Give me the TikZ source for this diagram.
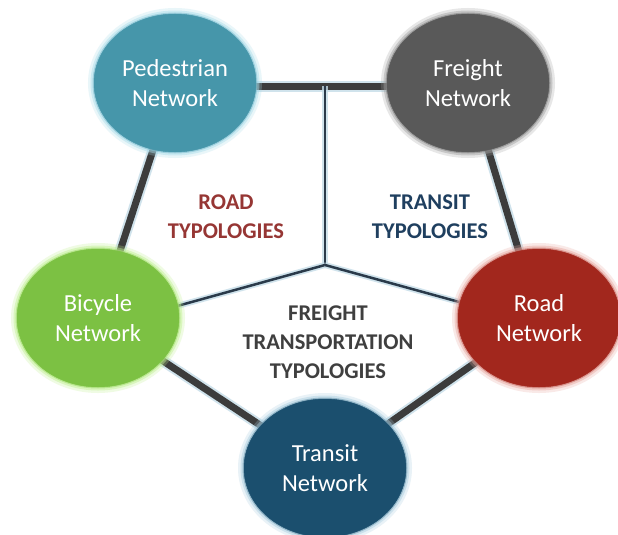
\documentclass[tikz,border=0pt]{standalone}
\usepackage{fontspec}
\setmainfont{Carlito}
\usetikzlibrary{shapes.geometric,backgrounds}
\definecolor{pedc}{HTML}{4696AA}
\definecolor{pedg}{HTML}{A8DCEB}
\definecolor{frc}{HTML}{595959}
\definecolor{frg}{HTML}{A0A0A0}
\definecolor{bicc}{HTML}{7CC143}
\definecolor{bicg}{HTML}{C0F090}
\definecolor{roadc}{HTML}{A2271D}
\definecolor{roadg}{HTML}{E8A8A0}
\definecolor{tranc}{HTML}{1B4F6E}
\definecolor{trang}{HTML}{A8CDE0}
\definecolor{linec}{HTML}{3C3C3C}
\definecolor{lineg}{HTML}{C5DCE8}
\definecolor{thinc}{HTML}{2A3A4A}
\definecolor{roadt}{HTML}{963634}
\definecolor{trant}{HTML}{1F3F5F}
\definecolor{freit}{HTML}{3F3F3F}
\tikzset{
  net/.style 2 args={ellipse, minimum width=162pt, minimum height=138pt, inner sep=0pt,
    fill=#1, draw=#1, line width=0.5pt, text=white, align=center,
    font=\fontsize{24.5}{30}\selectfont,
    preaction={draw=#2, line width=12pt, opacity=0.25},
    preaction={draw=#2, line width=7pt, opacity=0.45},
    preaction={draw=#2!60!#1, line width=3pt, opacity=0.6}},
  thick link/.style={line width=7pt, draw=linec, preaction={draw=lineg, line width=11pt, opacity=0.8}},
  thin link/.style={line width=2.5pt, draw=thinc, preaction={draw=lineg, line width=6pt, opacity=0.8}},
  typo/.style={align=center, font=\fontsize{22.5}{29}\selectfont\bfseries}
}
\begin{document}
\begin{tikzpicture}[x=1pt, y=-1pt]
\useasboundingbox (0,0) rectangle (618,535);
\node[net={pedc}{pedg}] (P) at (175,83) {Pedestrian\\Network};
\node[net={frc}{frg}] (F) at (468,83) {Freight\\Network};
\node[net={bicc}{bicg}] (B) at (98,318) {Bicycle\\Network};
\node[net={roadc}{roadg}] (R) at (539,318) {Road\\Network};
\node[net={tranc}{trang}] (T) at (325,468) {Transit\\Network};
\coordinate (J) at (325,265);
\coordinate (Jt) at (325,86);
\node[typo, text=roadt] (rt) at (226,217) {ROAD\\TYPOLOGIES};
\node[typo, text=trant] (tt) at (430,217) {TRANSIT\\TYPOLOGIES};
\node[typo, text=freit] (ft) at (328,342) {FREIGHT\\TRANSPORTATION\\TYPOLOGIES};
\begin{scope}[on background layer]
\fill[white] (0,0) rectangle (618,535);
\draw[thick link] ([yshift=-3pt]P.center) -- ([yshift=-3pt]F.center);
\draw[thick link] (F.center) -- (R.center);
\draw[thick link] (R.center) -- (T.center);
\draw[thick link] (T.center) -- (B.center);
\draw[thick link] (B.center) -- (P.center);
\draw[thin link] (J) -- (Jt);
\draw[thin link] (J) -- ([yshift=-10pt]B.center);
\draw[thin link] (J) -- ([yshift=-6pt]R.center);
\end{scope}
\end{tikzpicture}
\end{document}
